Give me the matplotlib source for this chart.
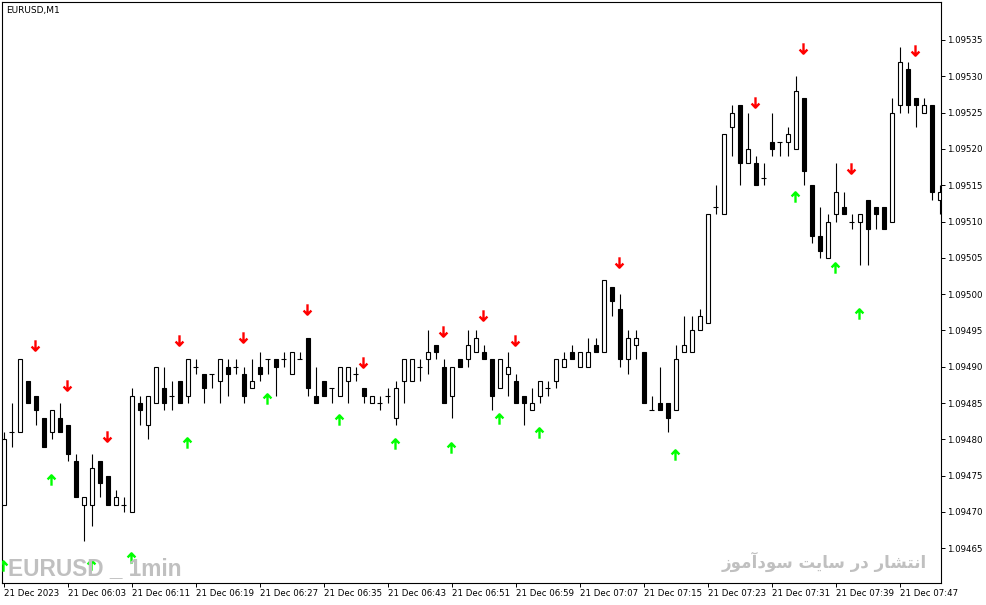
import matplotlib
matplotlib.use("Agg")
import matplotlib.pyplot as plt
from matplotlib.path import Path
import numpy as np

# EURUSD M1 candles, price given in points above 1.09000 (1 point = 0.00001)
BASE = 1.09000
opens = [471, 481, 481, 488, 486, 483, 481, 483, 482, 477, 471, 471, 477, 475, 471, 471,
         470, 485, 482, 485, 487, 486, 488, 486, 490, 489, 489, 488, 490, 490, 489, 487,
         490, 491, 491, 491, 489, 491, 494, 486, 488, 487, 486, 488, 489, 487, 485, 485,
         486, 483, 488, 488, 490, 491, 493, 490, 486, 491, 491, 492, 492, 491, 487, 489,
         488, 486, 484, 486, 487, 488, 490, 492, 490, 490, 493, 492, 501, 498, 491, 493,
         492, 484, 485, 485, 484, 492, 492, 495, 496, 512, 511, 523, 526, 518, 518, 516,
         521, 521, 521, 520, 527, 515, 508, 505, 511, 512, 510, 510, 513, 512, 512, 510,
         526, 531, 527, 525, 526, 513]
highs = [481, 485, 491, 488, 486, 483, 484, 485, 482, 478, 472, 478, 477, 475, 473, 472,
         487, 486, 486, 490, 490, 488, 488, 491, 491, 489, 489, 491, 491, 491, 490, 491,
         492, 491, 491, 492, 492, 492, 494, 490, 488, 487, 490, 490, 490, 487, 486, 486,
         487, 488, 491, 491, 491, 495, 493, 491, 490, 491, 495, 495, 493, 491, 491, 492,
         489, 486, 487, 488, 488, 491, 492, 493, 492, 494, 494, 502, 501, 500, 495, 495,
         492, 486, 490, 485, 493, 497, 497, 498, 511, 515, 522, 526, 526, 525, 519, 518,
         525, 521, 523, 530, 527, 515, 512, 511, 518, 514, 511, 511, 513, 512, 512, 527,
         534, 532, 527, 527, 526, 515]
lows = [471, 479, 481, 485, 482, 479, 480, 481, 477, 472, 466, 468, 472, 471, 471, 470,
        470, 482, 480, 485, 484, 484, 485, 485, 489, 485, 487, 485, 486, 489, 485, 487,
        488, 489, 486, 490, 489, 491, 486, 485, 486, 485, 486, 485, 488, 485, 485, 484,
        485, 482, 485, 488, 488, 489, 491, 485, 483, 490, 490, 492, 491, 484, 487, 486,
        485, 482, 484, 485, 486, 487, 490, 491, 490, 490, 492, 492, 497, 490, 489, 491,
        485, 484, 484, 481, 484, 492, 492, 495, 496, 511, 511, 519, 515, 518, 515, 515,
        519, 519, 519, 520, 515, 507, 505, 505, 510, 511, 509, 504, 504, 509, 509, 510,
        525, 525, 523, 525, 513, 511]
closes = [480, 481, 491, 485, 484, 479, 484, 481, 478, 472, 472, 476, 474, 471, 472, 471,
          486, 484, 486, 490, 485, 486, 485, 491, 490, 487, 489, 491, 489, 490, 486, 488,
          489, 491, 490, 491, 492, 491, 487, 485, 486, 487, 490, 490, 489, 486, 486, 485,
          486, 487, 491, 491, 490, 492, 492, 485, 490, 490, 493, 494, 491, 486, 491, 490,
          485, 485, 485, 488, 487, 491, 491, 491, 492, 492, 492, 502, 499, 491, 494, 494,
          485, 484, 484, 483, 491, 493, 495, 497, 511, 512, 522, 525, 518, 520, 515, 516,
          520, 521, 522, 528, 517, 508, 506, 510, 514, 511, 510, 511, 509, 511, 509, 525,
          532, 526, 526, 526, 514, 514]

# signal arrows: candle index and level (points above BASE)
sell_idx = [4, 8, 13, 22, 30, 38, 45, 55, 60, 64, 77, 94, 100, 106, 114]
sell_lvl = [493.0, 487.5, 480.5, 493.7, 494.1, 497.9, 490.7, 494.9, 497.1, 493.7,
            504.4, 526.4, 533.9, 517.4, 533.6]
buy_idx = [0, 6, 11, 16, 23, 33, 42, 49, 56, 62, 67, 84, 99, 104, 107]
buy_lvl = [462.5, 474.4, 462.7, 463.7, 479.5, 485.5, 482.6, 479.3, 478.8, 482.8,
           480.9, 477.8, 513.4, 503.6, 497.3]

time_labels = ["21 Dec 2023", "21 Dec 06:03", "21 Dec 06:11", "21 Dec 06:19", "21 Dec 06:27",
               "21 Dec 06:35", "21 Dec 06:43", "21 Dec 06:51", "21 Dec 06:59", "21 Dec 07:07",
               "21 Dec 07:15", "21 Dec 07:23", "21 Dec 07:31", "21 Dec 07:39", "21 Dec 07:47"]
price_ticks = [465, 470, 475, 480, 485, 490, 495, 500, 505, 510, 515, 520, 525, 530, 535]

to_price = lambda v: BASE + np.asarray(v, dtype=float) * 1e-5

# small persian shaper (matplotlib has no arabic shaping): isolated, final, initial, medial
FORMS = {
    '\u0627': ('\uFE8D', '\uFE8E'),
    '\u0622': ('\uFE81', '\uFE82'),
    '\u0646': ('\uFEE5', '\uFEE6', '\uFEE7', '\uFEE8'),
    '\u062A': ('\uFE95', '\uFE96', '\uFE97', '\uFE98'),
    '\u0634': ('\uFEB5', '\uFEB6', '\uFEB7', '\uFEB8'),
    '\u0631': ('\uFEAD', '\uFEAE'),
    '\u062F': ('\uFEA9', '\uFEAA'),
    '\u0633': ('\uFEB1', '\uFEB2', '\uFEB3', '\uFEB4'),
    '\u06CC': ('\uFBFC', '\uFBFD', '\uFBFE', '\uFBFF'),
    '\u0648': ('\uFEED', '\uFEEE'),
    '\u0645': ('\uFEE1', '\uFEE2', '\uFEE3', '\uFEE4'),
    '\u0632': ('\uFEAF', '\uFEB0'),
}


def shape(text):
    text = text.replace('\u064A', '\u06CC')
    out = []
    for k, ch in enumerate(text):
        if ch not in FORMS:
            out.append(ch)
            continue
        prev = text[k - 1] if k > 0 else ''
        nxt = text[k + 1] if k + 1 < len(text) else ''
        jp = prev in FORMS and len(FORMS[prev]) == 4
        jn = len(FORMS[ch]) == 4 and nxt in FORMS
        f = FORMS[ch]
        if jp and jn:
            out.append(f[3])
        elif jp:
            out.append(f[1])
        elif jn:
            out.append(f[2])
        else:
            out.append(f[0])
    return ''.join(reversed(out))


W, H = 987, 605
fig = plt.figure(figsize=(W / 100, H / 100), dpi=100)
ax = fig.add_axes([2 / W, 22 / H, 939 / W, 581 / H])

o = to_price(opens)
h = to_price(highs)
l = to_price(lows)
c = to_price(closes)
x = np.arange(len(o))

ax.vlines(x, l, h, color='black', lw=0.8, zorder=2)
up = c > o
dn = c < o
eq = c == o
ax.bar(x[up], (c - o)[up], bottom=o[up], width=0.5, facecolor='white',
       edgecolor='black', linewidth=0.8, zorder=3)
ax.bar(x[dn], (o - c)[dn], bottom=c[dn], width=0.5, facecolor='black',
       edgecolor='black', linewidth=0.8, zorder=3)
ax.hlines(o[eq], x[eq] - 0.35, x[eq] + 0.35, color='black', lw=0.8, zorder=3)

down_arrow = Path([(0, 1), (0, -1), (-0.75, -0.2), (0, -1), (0.75, -0.2)],
                  [Path.MOVETO, Path.LINETO, Path.MOVETO, Path.LINETO, Path.LINETO])
up_arrow = Path([(0, -1), (0, 1), (-0.75, 0.2), (0, 1), (0.75, 0.2)],
                [Path.MOVETO, Path.LINETO, Path.MOVETO, Path.LINETO, Path.LINETO])
ax.plot(np.array(sell_idx) - 0.12, to_price(sell_lvl), ls='none', marker=down_arrow, ms=7.5,
        mec='#ff0000', mfc='none', mew=1.7, zorder=4)
ax.plot(np.array(buy_idx) - 0.12, to_price(buy_lvl), ls='none', marker=up_arrow, ms=7.5,
        mec='#00ff00', mfc='none', mew=1.7, zorder=4)

ax.set_xlim(-0.1875, 117.1875)
ax.set_ylim(to_price(460.207), to_price(540.234))

ax.yaxis.tick_right()
ax.set_yticks(to_price(price_ticks))
ax.set_yticklabels([f"{p:.5f}" for p in to_price(price_ticks)])
ax.set_xticks(np.arange(0, 8 * len(time_labels), 8))
ax.set_xticklabels(time_labels)
for t in ax.get_xticklabels():
    t.set_ha('left')
ax.tick_params(axis='both', direction='out', length=3, width=0.7, labelsize=6.2,
               colors='black', pad=1.5)
for s in ax.spines.values():
    s.set_linewidth(0.8)
    s.set_color('black')

fig.text(6 / W, 1 - 11 / H, "EURUSD,M1", fontsize=6.5, va='center', ha='left')

fig.text(8 / W, 1 - 575 / H, "EURUSD _ 1min", fontsize=16.3, fontweight='bold',
         color='#c0c0c0', family=['Liberation Sans', 'DejaVu Sans'],
         va='baseline', ha='left', zorder=10)
fig.text(927 / W, 1 - 568 / H, shape("انتشار در سایت سودآموز"), fontsize=12,
         fontweight='bold', color='#c0c0c0', family=['DejaVu Sans'],
         va='baseline', ha='right', zorder=10)

fig.savefig("out.png", dpi=100)
